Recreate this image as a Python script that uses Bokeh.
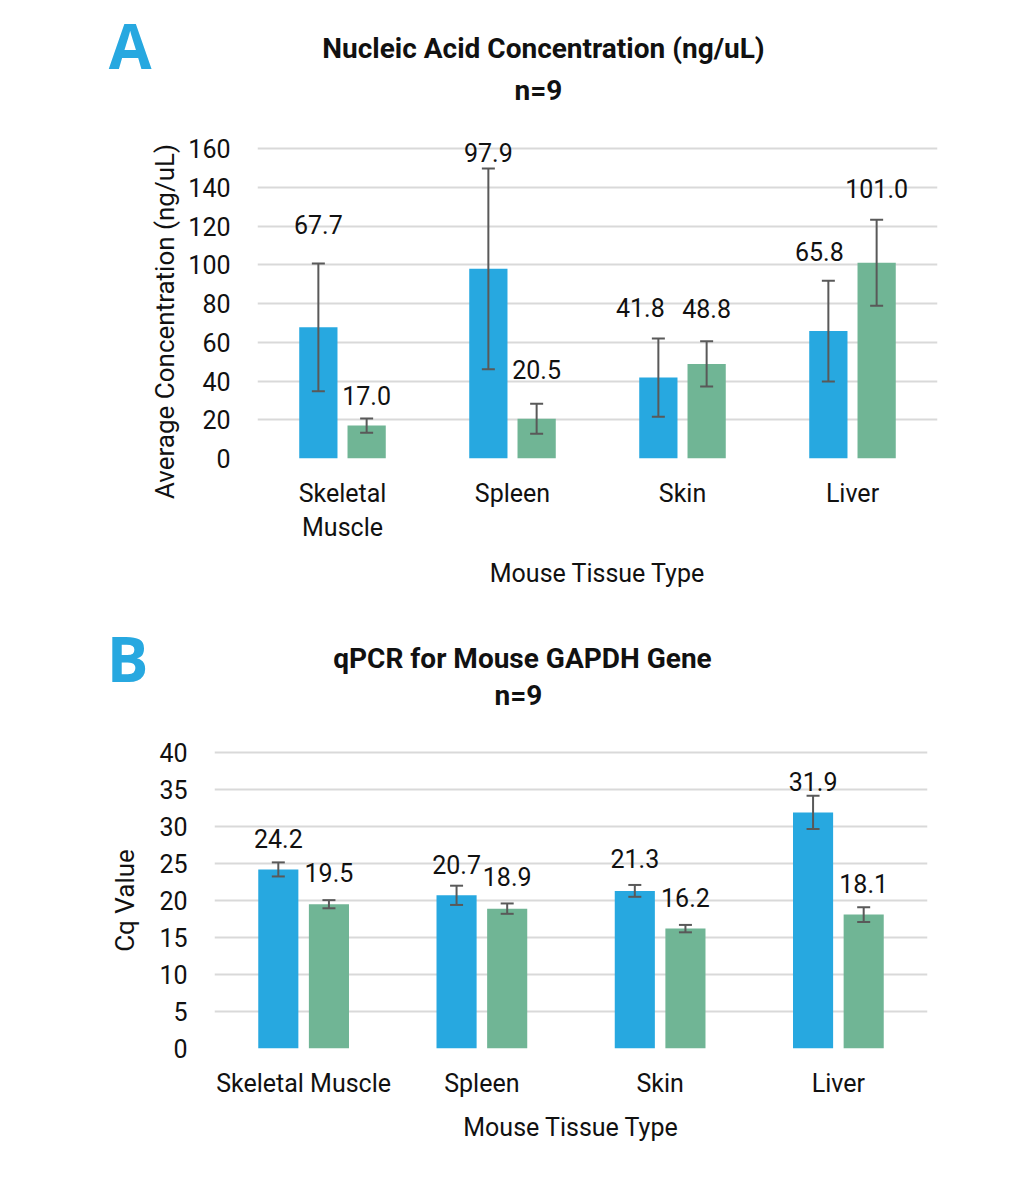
from bokeh.plotting import figure
from bokeh.models import ColumnDataSource, Range1d, Whisker, Label, FixedTicker, TeeHead, LinearAxis
from bokeh.core.properties import value
from bokeh.embed import file_html
from bokeh.resources import INLINE

# ---------------- data ----------------
categories = ["Skeletal Muscle", "Spleen", "Skin", "Liver"]
categories_a_labels = ["Skeletal\nMuscle", "Spleen", "Skin", "Liver"]

conc_blue = [67.7, 97.9, 41.8, 65.8]
conc_blue_err = [33.0, 51.8, 20.2, 26.0]
conc_green = [17.0, 20.5, 48.8, 101.0]
conc_green_err = [3.7, 7.7, 11.7, 22.2]

cq_blue = [24.2, 20.7, 21.3, 31.9]
cq_blue_err = [0.95, 1.3, 0.8, 2.25]
cq_green = [19.5, 18.9, 16.2, 18.1]
cq_green_err = [0.55, 0.7, 0.5, 1.0]

conc_ticks = [0, 20, 40, 60, 80, 100, 120, 140, 160]
cq_ticks = [0, 5, 10, 15, 20, 25, 30, 35, 40]

# ---------------- style ----------------
FONT = "Roboto"
FS = "25px"
TXT = "#111111"
BLUE = "#27A8E0"
GREEN = "#70B595"
ERR = "#595959"
GRID = "#D9D9D9"
BAR_W = 0.225
OFF = 0.142


def plain_axis(ax, font=FONT, size=FS, color=TXT, style="normal"):
    ax.axis_line_color = None
    ax.major_tick_line_color = None
    ax.minor_tick_line_color = None
    ax.major_tick_out = 0
    ax.major_tick_in = 0
    ax.major_label_text_font = font
    ax.major_label_text_font_size = size
    ax.major_label_text_font_style = style
    ax.major_label_text_color = color
    ax.axis_label_text_font = font
    ax.axis_label_text_font_size = size
    ax.axis_label_text_font_style = "normal"
    ax.axis_label_text_color = color


def make_panel(letter, title, ylabel, tick_labels, ticks, ymax,
               blue, blue_err, green, green_err,
               blue_lab_dy, green_lab_dy, blue_lab_dx, green_lab_dx,
               page_top, height, frame_left, frame_right, frame_top_val_px, baseline_px,
               ylab_standoff, ylab_y, xlab_standoff, xtick_standoff, letter_standoff,
               title_xy, n_xy, letter_y):
    width = 1024
    fw = frame_right - frame_left
    ppu = (baseline_px - frame_top_val_px) / ymax          # pixels per y unit
    y_end = (baseline_px - page_top) / ppu                 # frame reaches figure top
    p = figure(width=width, height=height, x_range=Range1d(0, 4), y_range=Range1d(0, y_end),
               output_backend="svg", toolbar_location=None,
               min_border_left=frame_left, min_border_right=width - frame_right,
               min_border_top=0, min_border_bottom=page_top + height - baseline_px)
    p.outline_line_color = None
    p.xgrid.grid_line_color = None
    p.ygrid.ticker = FixedTicker(ticks=ticks)
    p.ygrid.grid_line_color = GRID
    p.ygrid.grid_line_width = 2

    def px2x(px):
        return (px - frame_left) / fw * 4

    def px2y(py):
        return (baseline_px - py) / ppu

    n = len(categories)
    centers = [i + 0.5 for i in range(n)]
    for vals, errs, col, sign, dys, dxs in ((blue, blue_err, BLUE, -1, blue_lab_dy, blue_lab_dx),
                                            (green, green_err, GREEN, 1, green_lab_dy, green_lab_dx)):
        xs = [c + sign * OFF for c in centers]
        src = ColumnDataSource(dict(x=xs, top=vals,
                                    upper=[v + e for v, e in zip(vals, errs)],
                                    lower=[v - e for v, e in zip(vals, errs)],
                                    lab=["%.1f" % v for v in vals],
                                    yo=[-o for o in dys], xo=dxs))
        p.vbar(x="x", top="top", width=BAR_W, bottom=0, source=src, fill_color=col, line_color=None)
        w = Whisker(base="x", upper="upper", lower="lower", source=src, line_color=ERR, line_width=2,
                    upper_head=TeeHead(size=13, line_color=ERR, line_width=2),
                    lower_head=TeeHead(size=13, line_color=ERR, line_width=2), level="overlay")
        p.add_layout(w)
        p.text(x="x", y="upper", text="lab", x_offset="xo", y_offset="yo", source=src,
               text_align="center", text_baseline="middle", text_font=value(FONT),
               text_font_size=FS, text_color=TXT)

    # category axis
    xax = p.xaxis[0]
    plain_axis(xax)
    xax.ticker = FixedTicker(ticks=centers)
    xax.major_label_overrides = {c: lab for c, lab in zip(centers, tick_labels)}
    xax.bounds = (0, 4)
    xax.axis_label = "Mouse Tissue Type"
    xax.axis_label_standoff = xlab_standoff
    xax.major_label_standoff = xtick_standoff

    # value axis
    yax = p.yaxis[0]
    plain_axis(yax)
    yax.ticker = FixedTicker(ticks=ticks)
    yax.bounds = (0, ymax)
    yax.major_label_standoff = 27

    # value-axis title, placed as the single rotated label of an outer axis
    yl = round(px2y(ylab_y), 3)
    lab_ax = LinearAxis(ticker=FixedTicker(ticks=[yl]), major_label_overrides={yl: ylabel},
                        major_label_orientation="vertical", major_label_standoff=ylab_standoff)
    plain_axis(lab_ax, size="26px")
    p.add_layout(lab_ax, "left")

    # panel letter, drawn as the single label of the outermost left axis
    ly = round(px2y(letter_y), 3)
    let_ax = LinearAxis(ticker=FixedTicker(ticks=[ly]), major_label_overrides={ly: letter},
                        major_label_standoff=letter_standoff)
    plain_axis(let_ax, font="Open Sans", size="62px", color=BLUE, style="bold")
    p.add_layout(let_ax, "left")

    for (tx, ty), txt in ((title_xy, title), (n_xy, "n=9")):
        p.add_layout(Label(x=px2x(tx), y=px2y(ty), text=txt, text_align="center",
                           text_baseline="middle", text_font=FONT, text_font_size="28px",
                           text_font_style="bold", text_color=TXT))
    return p


pA = make_panel("A", "Nucleic Acid Concentration (ng/uL)", "Average Concentration (ng/uL)",
                categories_a_labels, conc_ticks, 160,
                conc_blue, conc_blue_err, conc_green, conc_green_err,
                [39, 16, 31, 29], [23, 34, 33, 31], [0, 0, -18, -9], [0, 0, 0, 0],
                page_top=0, height=608, frame_left=257, frame_right=937,
                frame_top_val_px=148, baseline_px=458,
                ylab_standoff=5, ylab_y=321, xlab_standoff=14, xtick_standoff=20,
                letter_standoff=-4,
                title_xy=(543, 48), n_xy=(538, 90), letter_y=40)

pB = make_panel("B", "qPCR for Mouse GAPDH Gene", "Cq Value",
                categories, cq_ticks, 40,
                cq_blue, cq_blue_err, cq_green, cq_green_err,
                [24, 21, 26, 14], [28, 27, 27, 24], [0, 0, 0, 0], [0, 0, 0, 0],
                page_top=608, height=582, frame_left=214, frame_right=927,
                frame_top_val_px=752, baseline_px=1048,
                ylab_standoff=17, ylab_y=900, xlab_standoff=12, xtick_standoff=20,
                letter_standoff=-42,
                title_xy=(522, 658), n_xy=(518, 695), letter_y=658)

open("out.html", "w").write(file_html((pA, pB), INLINE))
